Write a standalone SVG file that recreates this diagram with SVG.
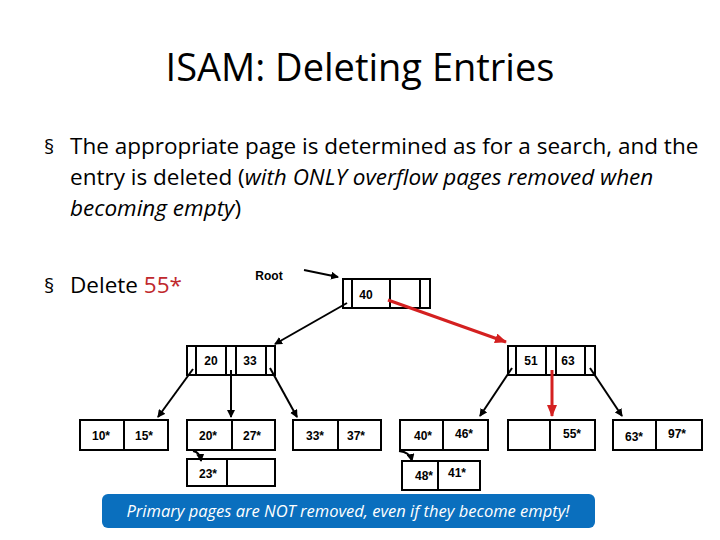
<svg xmlns="http://www.w3.org/2000/svg" width="720" height="540" viewBox="0 0 720 540">
<style>
.t{font-family:"Open Sans","Liberation Sans",sans-serif;fill:#000}
.b{fill:#fff;stroke:#000;stroke-width:2}
.d{stroke:#000;stroke-width:2}
.k{font-family:"Liberation Sans",Arial,sans-serif;font-size:12px;font-weight:bold;text-anchor:middle}
.a{stroke:#000;stroke-width:2;fill:none;marker-end:url(#ah)}
.r{stroke:#d42020;stroke-width:3;fill:none;marker-end:url(#rh)}
</style>
<defs>
<marker id="ah" markerWidth="8" markerHeight="8" refX="7" refY="4" orient="auto" markerUnits="userSpaceOnUse"><path d="M0,0L8,4L0,8z" fill="#000"/></marker>
<marker id="rh" markerWidth="12" markerHeight="10" refX="11" refY="5" orient="auto" markerUnits="userSpaceOnUse"><path d="M0,0L12,5L0,10z" fill="#d42020"/></marker>
</defs>
<text class="t" x="360" y="81" font-size="38" text-anchor="middle">ISAM: Deleting Entries</text>
<g class="t" font-size="22.5">
<text x="44" y="154" font-size="20">§</text>
<text x="70" y="154">The appropriate page is determined as for a search, and the</text>
<text x="70" y="185">entry is deleted (<tspan font-style="italic">with ONLY overflow pages removed when</tspan></text>
<text x="70" y="216"><tspan font-style="italic">becoming empty</tspan>)</text>
<text x="44" y="293" font-size="20">§</text>
<text x="70" y="293">Delete <tspan fill="#c0282d">55*</tspan></text>
</g>
<text class="k" x="269" y="280" font-size="13">Root</text>
<g id="root"><rect class="b" x="343" y="279" width="87" height="29"/><line class="d" x1="352" y1="279" x2="352" y2="308"/><line class="d" x1="390" y1="279" x2="390" y2="308"/><line class="d" x1="420" y1="279" x2="420" y2="308"/><text class="k" x="366" y="299">40</text></g>
<g id="i1"><rect class="b" x="187" y="346" width="88" height="29"/><line class="d" x1="196" y1="346" x2="196" y2="375"/><line class="d" x1="226" y1="346" x2="226" y2="375"/><line class="d" x1="236" y1="346" x2="236" y2="375"/><line class="d" x1="266" y1="346" x2="266" y2="375"/><text class="k" x="211" y="365">20</text><text class="k" x="250" y="365">33</text></g>
<g id="i2"><rect class="b" x="508" y="346" width="87" height="29"/><line class="d" x1="516" y1="346" x2="516" y2="375"/><line class="d" x1="546" y1="346" x2="546" y2="375"/><line class="d" x1="556" y1="346" x2="556" y2="375"/><line class="d" x1="585" y1="346" x2="585" y2="375"/><text class="k" x="531" y="365">51</text><text class="k" x="568" y="365">63</text></g>
<g id="l1"><rect class="b" x="80" y="420" width="88" height="30"/><line class="d" x1="124" y1="420" x2="124" y2="450"/><text class="k" x="101" y="440">10*</text><text class="k" x="144" y="440">15*</text></g>
<g id="l2"><rect class="b" x="187" y="420" width="88" height="30"/><line class="d" x1="232" y1="420" x2="232" y2="450"/><text class="k" x="208" y="440">20*</text><text class="k" x="252" y="440">27*</text></g>
<g id="l3"><rect class="b" x="293" y="420" width="88" height="30"/><line class="d" x1="338" y1="420" x2="338" y2="450"/><text class="k" x="315" y="440">33*</text><text class="k" x="356" y="440">37*</text></g>
<g id="l4"><rect class="b" x="400" y="420" width="88" height="30"/><line class="d" x1="443" y1="420" x2="443" y2="450"/><text class="k" x="423" y="440">40*</text><text class="k" x="464" y="438">46*</text></g>
<g id="l5"><rect class="b" x="508" y="420" width="87" height="30"/><line class="d" x1="550" y1="420" x2="550" y2="450"/><text class="k" x="572" y="438">55*</text></g>
<g id="l6"><rect class="b" x="613" y="420" width="89" height="30"/><line class="d" x1="656" y1="420" x2="656" y2="450"/><text class="k" x="634" y="441">63*</text><text class="k" x="677" y="438">97*</text></g>
<g id="o1"><rect class="b" x="187" y="459" width="88" height="27"/><line class="d" x1="227" y1="459" x2="227" y2="486"/><text class="k" x="208" y="478">23*</text></g>
<g id="o2"><rect class="b" x="402" y="461" width="78" height="29"/><line class="d" x1="438" y1="461" x2="438" y2="490"/><text class="k" x="424" y="480">48*</text><text class="k" x="457" y="477">41*</text></g>
<g id="connectors">
<line class="a" x1="304" y1="270" x2="338" y2="277"/>
<line class="a" x1="347" y1="303" x2="275" y2="344"/>
<line class="r" x1="388" y1="300" x2="506" y2="342"/>
<line class="a" x1="193" y1="369" x2="158" y2="417"/>
<line class="a" x1="231" y1="370" x2="231" y2="417"/>
<line class="a" x1="270" y1="368" x2="297" y2="417"/>
<line class="a" x1="512" y1="368" x2="480" y2="416"/>
<line class="r" x1="552" y1="370" x2="552" y2="416"/>
<line class="a" x1="590" y1="368" x2="622" y2="416"/>
<path class="a" d="M193,451 Q200,452 201,461"/>
<path class="a" d="M399,451 Q410,452 412,461"/>
</g>
<rect x="102" y="494" width="493" height="34" rx="6" fill="#0a6fbe"/>
<text class="t" x="348" y="517" font-size="16.5" font-style="italic" style="fill:#fff" text-anchor="middle">Primary pages are NOT removed, even if they become empty!</text>
</svg>
